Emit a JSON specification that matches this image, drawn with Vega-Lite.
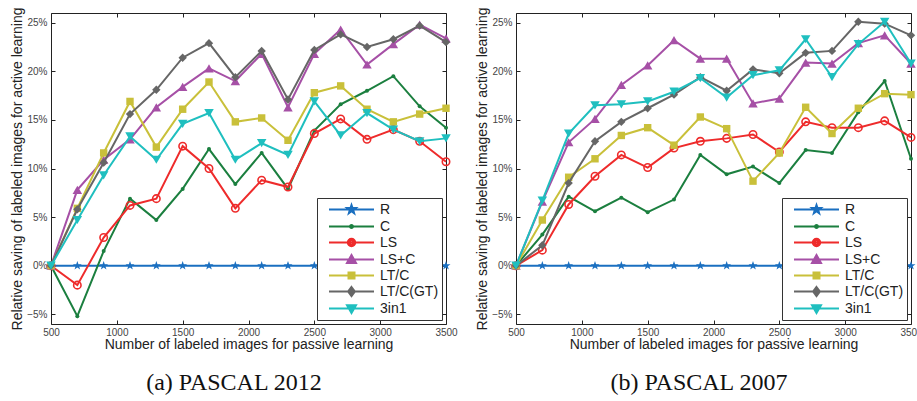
{
  "$schema": "https://vega.github.io/schema/vega-lite/v6.json",
  "padding": {"left": 10, "top": 7, "right": 0, "bottom": 4},
  "bounds": "flush",
  "spacing": 70,
  "resolve": {"scale": {"fill": "independent", "stroke": "independent", "shape": "independent"}, "legend": {"fill": "independent", "stroke": "independent", "shape": "independent"}},
  "config": {
    "view": {"stroke": null},
    "axis": {"labelFont": "Liberation Sans", "labelFontSize": 10, "labelColor": "#444", "titleFont": "Liberation Sans", "titleFontSize": 14, "titleFontWeight": "normal", "titleColor": "#222", "domainColor": "#222", "tickColor": "#222", "grid": false, "labelFlush": false},
    "legend": {"title": null, "orient": "bottom-right", "offset": 4, "padding": 3, "strokeColor": "#333", "fillColor": "white", "symbolSize": 225, "symbolStrokeWidth": 2, "symbolOffset": 23, "labelOffset": 20, "labelFont": "Liberation Sans", "labelFontSize": 14, "labelColor": "#222", "rowPadding": 0, "symbolOpacity": 1}
  },
  "datasets": {
    "a": [
      {"s":"R","x":500,"v":0},{"s":"R","x":700,"v":0},{"s":"R","x":900,"v":0},{"s":"R","x":1100,"v":0},{"s":"R","x":1300,"v":0},{"s":"R","x":1500,"v":0},{"s":"R","x":1700,"v":0},{"s":"R","x":1900,"v":0},{"s":"R","x":2100,"v":0},{"s":"R","x":2300,"v":0},{"s":"R","x":2500,"v":0},{"s":"R","x":2700,"v":0},{"s":"R","x":2900,"v":0},{"s":"R","x":3100,"v":0},{"s":"R","x":3300,"v":0},{"s":"R","x":3500,"v":0},
      {"s":"C","x":500,"v":0},{"s":"C","x":700,"v":-5.2},{"s":"C","x":900,"v":1.5},{"s":"C","x":1100,"v":6.9},{"s":"C","x":1300,"v":4.7},{"s":"C","x":1500,"v":7.9},{"s":"C","x":1700,"v":12.0},{"s":"C","x":1900,"v":8.4},{"s":"C","x":2100,"v":11.6},{"s":"C","x":2300,"v":7.9},{"s":"C","x":2500,"v":13.9},{"s":"C","x":2700,"v":16.6},{"s":"C","x":2900,"v":18.0},{"s":"C","x":3100,"v":19.5},{"s":"C","x":3300,"v":16.4},{"s":"C","x":3500,"v":14.2},
      {"s":"LS","x":500,"v":0},{"s":"LS","x":700,"v":-2.0},{"s":"LS","x":900,"v":2.9},{"s":"LS","x":1100,"v":6.2},{"s":"LS","x":1300,"v":6.9},{"s":"LS","x":1500,"v":12.3},{"s":"LS","x":1700,"v":10.0},{"s":"LS","x":1900,"v":5.9},{"s":"LS","x":2100,"v":8.8},{"s":"LS","x":2300,"v":8.1},{"s":"LS","x":2500,"v":13.6},{"s":"LS","x":2700,"v":15.1},{"s":"LS","x":2900,"v":13.0},{"s":"LS","x":3100,"v":14.0},{"s":"LS","x":3300,"v":12.8},{"s":"LS","x":3500,"v":10.7},
      {"s":"LS+C","x":500,"v":0},{"s":"LS+C","x":700,"v":7.8},{"s":"LS+C","x":900,"v":10.9},{"s":"LS+C","x":1100,"v":13.0},{"s":"LS+C","x":1300,"v":16.3},{"s":"LS+C","x":1500,"v":18.4},{"s":"LS+C","x":1700,"v":20.3},{"s":"LS+C","x":1900,"v":19.0},{"s":"LS+C","x":2100,"v":21.8},{"s":"LS+C","x":2300,"v":16.3},{"s":"LS+C","x":2500,"v":21.8},{"s":"LS+C","x":2700,"v":24.3},{"s":"LS+C","x":2900,"v":20.7},{"s":"LS+C","x":3100,"v":22.8},{"s":"LS+C","x":3300,"v":24.8},{"s":"LS+C","x":3500,"v":23.4},
      {"s":"LT/C","x":500,"v":0},{"s":"LT/C","x":700,"v":5.9},{"s":"LT/C","x":900,"v":11.6},{"s":"LT/C","x":1100,"v":16.9},{"s":"LT/C","x":1300,"v":12.2},{"s":"LT/C","x":1500,"v":16.1},{"s":"LT/C","x":1700,"v":18.9},{"s":"LT/C","x":1900,"v":14.8},{"s":"LT/C","x":2100,"v":15.2},{"s":"LT/C","x":2300,"v":12.9},{"s":"LT/C","x":2500,"v":17.8},{"s":"LT/C","x":2700,"v":18.5},{"s":"LT/C","x":2900,"v":16.1},{"s":"LT/C","x":3100,"v":14.8},{"s":"LT/C","x":3300,"v":15.6},{"s":"LT/C","x":3500,"v":16.2},
      {"s":"LT/C(GT)","x":500,"v":0},{"s":"LT/C(GT)","x":700,"v":5.8},{"s":"LT/C(GT)","x":900,"v":10.6},{"s":"LT/C(GT)","x":1100,"v":15.6},{"s":"LT/C(GT)","x":1300,"v":18.1},{"s":"LT/C(GT)","x":1500,"v":21.4},{"s":"LT/C(GT)","x":1700,"v":22.9},{"s":"LT/C(GT)","x":1900,"v":19.4},{"s":"LT/C(GT)","x":2100,"v":22.1},{"s":"LT/C(GT)","x":2300,"v":17.1},{"s":"LT/C(GT)","x":2500,"v":22.2},{"s":"LT/C(GT)","x":2700,"v":23.8},{"s":"LT/C(GT)","x":2900,"v":22.5},{"s":"LT/C(GT)","x":3100,"v":23.3},{"s":"LT/C(GT)","x":3300,"v":24.7},{"s":"LT/C(GT)","x":3500,"v":23.0},
      {"s":"3in1","x":500,"v":0},{"s":"3in1","x":700,"v":4.7},{"s":"3in1","x":900,"v":9.3},{"s":"3in1","x":1100,"v":13.3},{"s":"3in1","x":1300,"v":10.9},{"s":"3in1","x":1500,"v":14.6},{"s":"3in1","x":1700,"v":15.7},{"s":"3in1","x":1900,"v":10.9},{"s":"3in1","x":2100,"v":12.6},{"s":"3in1","x":2300,"v":11.4},{"s":"3in1","x":2500,"v":16.9},{"s":"3in1","x":2700,"v":13.4},{"s":"3in1","x":2900,"v":15.7},{"s":"3in1","x":3100,"v":14.0},{"s":"3in1","x":3300,"v":12.8},{"s":"3in1","x":3500,"v":13.1}
    ],
    "b": [
      {"s":"R","x":500,"v":0},{"s":"R","x":700,"v":0},{"s":"R","x":900,"v":0},{"s":"R","x":1100,"v":0},{"s":"R","x":1300,"v":0},{"s":"R","x":1500,"v":0},{"s":"R","x":1700,"v":0},{"s":"R","x":1900,"v":0},{"s":"R","x":2100,"v":0},{"s":"R","x":2300,"v":0},{"s":"R","x":2500,"v":0},{"s":"R","x":2700,"v":0},{"s":"R","x":2900,"v":0},{"s":"R","x":3100,"v":0},{"s":"R","x":3300,"v":0},{"s":"R","x":3500,"v":0},
      {"s":"C","x":500,"v":0},{"s":"C","x":700,"v":3.2},{"s":"C","x":900,"v":7.1},{"s":"C","x":1100,"v":5.6},{"s":"C","x":1300,"v":7.0},{"s":"C","x":1500,"v":5.5},{"s":"C","x":1700,"v":6.8},{"s":"C","x":1900,"v":11.4},{"s":"C","x":2100,"v":9.4},{"s":"C","x":2300,"v":10.2},{"s":"C","x":2500,"v":8.5},{"s":"C","x":2700,"v":11.9},{"s":"C","x":2900,"v":11.6},{"s":"C","x":3100,"v":15.8},{"s":"C","x":3300,"v":19.0},{"s":"C","x":3500,"v":11.0},
      {"s":"LS","x":500,"v":0},{"s":"LS","x":700,"v":1.6},{"s":"LS","x":900,"v":6.3},{"s":"LS","x":1100,"v":9.2},{"s":"LS","x":1300,"v":11.4},{"s":"LS","x":1500,"v":10.1},{"s":"LS","x":1700,"v":12.1},{"s":"LS","x":1900,"v":12.8},{"s":"LS","x":2100,"v":13.1},{"s":"LS","x":2300,"v":13.5},{"s":"LS","x":2500,"v":11.7},{"s":"LS","x":2700,"v":14.8},{"s":"LS","x":2900,"v":14.2},{"s":"LS","x":3100,"v":14.2},{"s":"LS","x":3300,"v":14.9},{"s":"LS","x":3500,"v":13.2},
      {"s":"LS+C","x":500,"v":0},{"s":"LS+C","x":700,"v":6.6},{"s":"LS+C","x":900,"v":12.7},{"s":"LS+C","x":1100,"v":15.1},{"s":"LS+C","x":1300,"v":18.6},{"s":"LS+C","x":1500,"v":20.6},{"s":"LS+C","x":1700,"v":23.2},{"s":"LS+C","x":1900,"v":21.3},{"s":"LS+C","x":2100,"v":21.3},{"s":"LS+C","x":2300,"v":16.7},{"s":"LS+C","x":2500,"v":17.2},{"s":"LS+C","x":2700,"v":20.9},{"s":"LS+C","x":2900,"v":20.8},{"s":"LS+C","x":3100,"v":22.9},{"s":"LS+C","x":3300,"v":23.7},{"s":"LS+C","x":3500,"v":20.8},
      {"s":"LT/C","x":500,"v":0},{"s":"LT/C","x":700,"v":4.7},{"s":"LT/C","x":900,"v":9.1},{"s":"LT/C","x":1100,"v":11.0},{"s":"LT/C","x":1300,"v":13.4},{"s":"LT/C","x":1500,"v":14.2},{"s":"LT/C","x":1700,"v":12.4},{"s":"LT/C","x":1900,"v":15.3},{"s":"LT/C","x":2100,"v":14.1},{"s":"LT/C","x":2300,"v":8.7},{"s":"LT/C","x":2500,"v":11.6},{"s":"LT/C","x":2700,"v":16.3},{"s":"LT/C","x":2900,"v":13.6},{"s":"LT/C","x":3100,"v":16.2},{"s":"LT/C","x":3300,"v":17.7},{"s":"LT/C","x":3500,"v":17.6},
      {"s":"LT/C(GT)","x":500,"v":0},{"s":"LT/C(GT)","x":700,"v":2.1},{"s":"LT/C(GT)","x":900,"v":8.5},{"s":"LT/C(GT)","x":1100,"v":12.8},{"s":"LT/C(GT)","x":1300,"v":14.8},{"s":"LT/C(GT)","x":1500,"v":16.2},{"s":"LT/C(GT)","x":1700,"v":17.6},{"s":"LT/C(GT)","x":1900,"v":19.4},{"s":"LT/C(GT)","x":2100,"v":18.0},{"s":"LT/C(GT)","x":2300,"v":20.2},{"s":"LT/C(GT)","x":2500,"v":19.8},{"s":"LT/C(GT)","x":2700,"v":21.9},{"s":"LT/C(GT)","x":2900,"v":22.1},{"s":"LT/C(GT)","x":3100,"v":25.1},{"s":"LT/C(GT)","x":3300,"v":24.9},{"s":"LT/C(GT)","x":3500,"v":23.7},
      {"s":"3in1","x":500,"v":0},{"s":"3in1","x":700,"v":6.7},{"s":"3in1","x":900,"v":13.6},{"s":"3in1","x":1100,"v":16.5},{"s":"3in1","x":1300,"v":16.6},{"s":"3in1","x":1500,"v":16.9},{"s":"3in1","x":1700,"v":17.9},{"s":"3in1","x":1900,"v":19.3},{"s":"3in1","x":2100,"v":17.3},{"s":"3in1","x":2300,"v":19.6},{"s":"3in1","x":2500,"v":20.1},{"s":"3in1","x":2700,"v":23.3},{"s":"3in1","x":2900,"v":19.4},{"s":"3in1","x":3100,"v":22.8},{"s":"3in1","x":3300,"v":25.1},{"s":"3in1","x":3500,"v":20.8}
    ]
  },
  "hconcat": [
    {
      "width": 395, "height": 311,
      "data": {"name": "a"},
      "title": {"text": "(a) PASCAL 2012", "orient": "bottom", "frame": "bounds", "font": "Liberation Serif", "fontSize": 24, "fontWeight": "normal", "color": "#111", "offset": 20, "anchor": "middle"},
      "resolve": {"axis": {"x": "independent", "y": "independent"}},
      "layer": [
        {"transform": [{"filter": "datum.s === 'R'"}], "mark": {"type": "line", "color": "#1a6fc0", "strokeWidth": 2},
         "encoding": {
           "x": {"field": "x", "type": "quantitative", "scale": {"domain": [500, 3500], "nice": false, "zero": false}, "axis": {"orient": "bottom", "values": [500,1000,1500,2000,2500,3000,3500], "format": "d", "tickSize": -4, "labelPadding": 7, "title": "Number of labeled images for passive learning", "titlePadding": 0}},
           "y": {"field": "v", "type": "quantitative", "scale": {"domain": [-6, 26], "nice": false, "zero": false}, "axis": {"orient": "left", "values": [-5,0,5,10,15,20,25], "labelExpr": "(datum.value < 0 ? '−' + abs(datum.value) : datum.value) + '%'", "tickSize": -4, "labelPadding": 8, "title": "Relative saving of labeled images for active learning", "titlePadding": 2}}
         }},
        {"transform": [{"filter": "datum.s === 'R'"}], "mark": {"type": "point", "shape": "M0,-1L0.235,-0.324L0.951,-0.309L0.38,0.124L0.588,0.809L0,0.4L-0.588,0.809L-0.38,0.124L-0.951,-0.309L-0.235,-0.324Z", "filled": true, "color": "#1a6fc0", "size": 90, "opacity": 1},
         "encoding": {"x": {"field": "x", "type": "quantitative", "axis": null}, "y": {"field": "v", "type": "quantitative", "axis": null}}},
        {"transform": [{"filter": "datum.s === 'C'"}], "mark": {"type": "line", "color": "#1b7f3f", "strokeWidth": 2},
         "encoding": {"x": {"field": "x", "type": "quantitative", "axis": null}, "y": {"field": "v", "type": "quantitative", "axis": null}}},
        {"transform": [{"filter": "datum.s === 'C'"}], "mark": {"type": "point", "shape": "circle", "filled": true, "color": "#1b7f3f", "size": 16, "opacity": 1},
         "encoding": {"x": {"field": "x", "type": "quantitative", "axis": null}, "y": {"field": "v", "type": "quantitative", "axis": null}}},
        {"transform": [{"filter": "datum.s === 'LS'"}], "mark": {"type": "line", "color": "#ee2b2b", "strokeWidth": 2},
         "encoding": {"x": {"field": "x", "type": "quantitative", "axis": null}, "y": {"field": "v", "type": "quantitative", "axis": null}}},
        {"transform": [{"filter": "datum.s === 'LS'"}], "mark": {"type": "point", "shape": "circle", "filled": false, "color": "#ee2b2b", "size": 55, "strokeWidth": 1.6, "opacity": 1},
         "encoding": {"x": {"field": "x", "type": "quantitative", "axis": null}, "y": {"field": "v", "type": "quantitative", "axis": null}}},
        {"transform": [{"filter": "datum.s === 'LS+C'"}], "mark": {"type": "line", "color": "#a650a6", "strokeWidth": 2},
         "encoding": {"x": {"field": "x", "type": "quantitative", "axis": null}, "y": {"field": "v", "type": "quantitative", "axis": null}}},
        {"transform": [{"filter": "datum.s === 'LS+C'"}], "mark": {"type": "point", "shape": "triangle-up", "filled": true, "color": "#a650a6", "size": 90, "opacity": 1},
         "encoding": {"x": {"field": "x", "type": "quantitative", "axis": null}, "y": {"field": "v", "type": "quantitative", "axis": null}}},
        {"transform": [{"filter": "datum.s === 'LT/C'"}], "mark": {"type": "line", "color": "#c9c03a", "strokeWidth": 2},
         "encoding": {"x": {"field": "x", "type": "quantitative", "axis": null}, "y": {"field": "v", "type": "quantitative", "axis": null}}},
        {"transform": [{"filter": "datum.s === 'LT/C'"}], "mark": {"type": "point", "shape": "square", "filled": true, "color": "#c9c03a", "size": 55, "opacity": 1},
         "encoding": {"x": {"field": "x", "type": "quantitative", "axis": null}, "y": {"field": "v", "type": "quantitative", "axis": null}}},
        {"transform": [{"filter": "datum.s === 'LT/C(GT)'"}], "mark": {"type": "line", "color": "#666666", "strokeWidth": 2},
         "encoding": {"x": {"field": "x", "type": "quantitative", "axis": null}, "y": {"field": "v", "type": "quantitative", "axis": null}}},
        {"transform": [{"filter": "datum.s === 'LT/C(GT)'"}], "mark": {"type": "point", "shape": "diamond", "filled": true, "color": "#666666", "size": 70, "opacity": 1},
         "encoding": {"x": {"field": "x", "type": "quantitative", "axis": null}, "y": {"field": "v", "type": "quantitative", "axis": null}}},
        {"transform": [{"filter": "datum.s === '3in1'"}], "mark": {"type": "line", "color": "#1fbfbf", "strokeWidth": 2},
         "encoding": {"x": {"field": "x", "type": "quantitative", "axis": null}, "y": {"field": "v", "type": "quantitative", "axis": null}}},
        {"transform": [{"filter": "datum.s === '3in1'"}], "mark": {"type": "point", "shape": "triangle-down", "filled": true, "color": "#1fbfbf", "size": 90, "opacity": 1},
         "encoding": {"x": {"field": "x", "type": "quantitative", "axis": null}, "y": {"field": "v", "type": "quantitative", "axis": null}}},
        {"transform": [{"filter": "datum.x === 500"}], "mark": {"type": "point", "filled": true, "opacity": 0},
         "encoding": {
           "x": {"field": "x", "type": "quantitative", "axis": {"orient": "top", "values": [500,1000,1500,2000,2500,3000,3500], "labels": false, "tickSize": -4, "title": null}},
           "y": {"field": "v", "type": "quantitative", "axis": {"orient": "right", "values": [-5,0,5,10,15,20,25], "labels": false, "tickSize": -4, "title": null}},
           "fill": {"field": "s", "type": "nominal", "scale": {"domain": ["R","C","LS","LS+C","LT/C","LT/C(GT)","3in1"], "range": ["#1a6fc0","#1b7f3f","#ee2b2b","#a650a6","#c9c03a","#666666","#1fbfbf"]}},
           "stroke": {"field": "s", "type": "nominal", "scale": {"domain": ["R","C","LS","LS+C","LT/C","LT/C(GT)","3in1"], "range": ["#1a6fc0","#1b7f3f","#ee2b2b","#a650a6","#c9c03a","#666666","#1fbfbf"]}},
           "shape": {"field": "s", "type": "nominal", "scale": {"domain": ["R","C","LS","LS+C","LT/C","LT/C(GT)","3in1"], "range": [
             "M-3,0H3M0,-0.6L0.14,-0.19L0.57,-0.19L0.23,0.07L0.35,0.49L0,0.24L-0.35,0.49L-0.23,0.07L-0.57,-0.19L-0.14,-0.19Z",
             "M-3,0H3M0.2,0A0.2,0.2 0 1,1 -0.2,0A0.2,0.2 0 1,1 0.2,0Z",
             "M-3,0H3M0.5,0A0.5,0.5 0 1,1 -0.5,0A0.5,0.5 0 1,1 0.5,0ZM0.3,0A0.3,0.3 0 1,0 -0.3,0A0.3,0.3 0 1,0 0.3,0Z",
             "M-3,0H3M0,-0.6L0.6,0.45L-0.6,0.45Z",
             "M-3,0H3M-0.4,-0.4H0.4V0.4H-0.4Z",
             "M-3,0H3M0,-0.6L0.45,0L0,0.6L-0.45,0Z",
             "M-3,0H3M0,0.6L0.6,-0.45L-0.6,-0.45Z"]}}
         }}
      ]
    },
    {
      "width": 395, "height": 311,
      "data": {"name": "b"},
      "title": {"text": "(b) PASCAL 2007", "orient": "bottom", "frame": "bounds", "font": "Liberation Serif", "fontSize": 24, "fontWeight": "normal", "color": "#111", "offset": 20, "anchor": "middle"},
      "resolve": {"axis": {"x": "independent", "y": "independent"}},
      "layer": [
        {"transform": [{"filter": "datum.s === 'R'"}], "mark": {"type": "line", "color": "#1a6fc0", "strokeWidth": 2},
         "encoding": {
           "x": {"field": "x", "type": "quantitative", "scale": {"domain": [500, 3500], "nice": false, "zero": false}, "axis": {"orient": "bottom", "values": [500,1000,1500,2000,2500,3000,3500], "format": "d", "tickSize": -4, "labelPadding": 7, "title": "Number of labeled images for passive learning", "titlePadding": 0}},
           "y": {"field": "v", "type": "quantitative", "scale": {"domain": [-6, 26], "nice": false, "zero": false}, "axis": {"orient": "left", "values": [-5,0,5,10,15,20,25], "labelExpr": "(datum.value < 0 ? '−' + abs(datum.value) : datum.value) + '%'", "tickSize": -4, "labelPadding": 8, "title": "Relative saving of labeled images for active learning", "titlePadding": 2}}
         }},
        {"transform": [{"filter": "datum.s === 'R'"}], "mark": {"type": "point", "shape": "M0,-1L0.235,-0.324L0.951,-0.309L0.38,0.124L0.588,0.809L0,0.4L-0.588,0.809L-0.38,0.124L-0.951,-0.309L-0.235,-0.324Z", "filled": true, "color": "#1a6fc0", "size": 90, "opacity": 1},
         "encoding": {"x": {"field": "x", "type": "quantitative", "axis": null}, "y": {"field": "v", "type": "quantitative", "axis": null}}},
        {"transform": [{"filter": "datum.s === 'C'"}], "mark": {"type": "line", "color": "#1b7f3f", "strokeWidth": 2},
         "encoding": {"x": {"field": "x", "type": "quantitative", "axis": null}, "y": {"field": "v", "type": "quantitative", "axis": null}}},
        {"transform": [{"filter": "datum.s === 'C'"}], "mark": {"type": "point", "shape": "circle", "filled": true, "color": "#1b7f3f", "size": 16, "opacity": 1},
         "encoding": {"x": {"field": "x", "type": "quantitative", "axis": null}, "y": {"field": "v", "type": "quantitative", "axis": null}}},
        {"transform": [{"filter": "datum.s === 'LS'"}], "mark": {"type": "line", "color": "#ee2b2b", "strokeWidth": 2},
         "encoding": {"x": {"field": "x", "type": "quantitative", "axis": null}, "y": {"field": "v", "type": "quantitative", "axis": null}}},
        {"transform": [{"filter": "datum.s === 'LS'"}], "mark": {"type": "point", "shape": "circle", "filled": false, "color": "#ee2b2b", "size": 55, "strokeWidth": 1.6, "opacity": 1},
         "encoding": {"x": {"field": "x", "type": "quantitative", "axis": null}, "y": {"field": "v", "type": "quantitative", "axis": null}}},
        {"transform": [{"filter": "datum.s === 'LS+C'"}], "mark": {"type": "line", "color": "#a650a6", "strokeWidth": 2},
         "encoding": {"x": {"field": "x", "type": "quantitative", "axis": null}, "y": {"field": "v", "type": "quantitative", "axis": null}}},
        {"transform": [{"filter": "datum.s === 'LS+C'"}], "mark": {"type": "point", "shape": "triangle-up", "filled": true, "color": "#a650a6", "size": 90, "opacity": 1},
         "encoding": {"x": {"field": "x", "type": "quantitative", "axis": null}, "y": {"field": "v", "type": "quantitative", "axis": null}}},
        {"transform": [{"filter": "datum.s === 'LT/C'"}], "mark": {"type": "line", "color": "#c9c03a", "strokeWidth": 2},
         "encoding": {"x": {"field": "x", "type": "quantitative", "axis": null}, "y": {"field": "v", "type": "quantitative", "axis": null}}},
        {"transform": [{"filter": "datum.s === 'LT/C'"}], "mark": {"type": "point", "shape": "square", "filled": true, "color": "#c9c03a", "size": 55, "opacity": 1},
         "encoding": {"x": {"field": "x", "type": "quantitative", "axis": null}, "y": {"field": "v", "type": "quantitative", "axis": null}}},
        {"transform": [{"filter": "datum.s === 'LT/C(GT)'"}], "mark": {"type": "line", "color": "#666666", "strokeWidth": 2},
         "encoding": {"x": {"field": "x", "type": "quantitative", "axis": null}, "y": {"field": "v", "type": "quantitative", "axis": null}}},
        {"transform": [{"filter": "datum.s === 'LT/C(GT)'"}], "mark": {"type": "point", "shape": "diamond", "filled": true, "color": "#666666", "size": 70, "opacity": 1},
         "encoding": {"x": {"field": "x", "type": "quantitative", "axis": null}, "y": {"field": "v", "type": "quantitative", "axis": null}}},
        {"transform": [{"filter": "datum.s === '3in1'"}], "mark": {"type": "line", "color": "#1fbfbf", "strokeWidth": 2},
         "encoding": {"x": {"field": "x", "type": "quantitative", "axis": null}, "y": {"field": "v", "type": "quantitative", "axis": null}}},
        {"transform": [{"filter": "datum.s === '3in1'"}], "mark": {"type": "point", "shape": "triangle-down", "filled": true, "color": "#1fbfbf", "size": 90, "opacity": 1},
         "encoding": {"x": {"field": "x", "type": "quantitative", "axis": null}, "y": {"field": "v", "type": "quantitative", "axis": null}}},
        {"transform": [{"filter": "datum.x === 500"}], "mark": {"type": "point", "filled": true, "opacity": 0},
         "encoding": {
           "x": {"field": "x", "type": "quantitative", "axis": {"orient": "top", "values": [500,1000,1500,2000,2500,3000,3500], "labels": false, "tickSize": -4, "title": null}},
           "y": {"field": "v", "type": "quantitative", "axis": {"orient": "right", "values": [-5,0,5,10,15,20,25], "labels": false, "tickSize": -4, "title": null}},
           "fill": {"field": "s", "type": "nominal", "scale": {"domain": ["R","C","LS","LS+C","LT/C","LT/C(GT)","3in1"], "range": ["#1a6fc0","#1b7f3f","#ee2b2b","#a650a6","#c9c03a","#666666","#1fbfbf"]}},
           "stroke": {"field": "s", "type": "nominal", "scale": {"domain": ["R","C","LS","LS+C","LT/C","LT/C(GT)","3in1"], "range": ["#1a6fc0","#1b7f3f","#ee2b2b","#a650a6","#c9c03a","#666666","#1fbfbf"]}},
           "shape": {"field": "s", "type": "nominal", "scale": {"domain": ["R","C","LS","LS+C","LT/C","LT/C(GT)","3in1"], "range": [
             "M-3,0H3M0,-0.6L0.14,-0.19L0.57,-0.19L0.23,0.07L0.35,0.49L0,0.24L-0.35,0.49L-0.23,0.07L-0.57,-0.19L-0.14,-0.19Z",
             "M-3,0H3M0.2,0A0.2,0.2 0 1,1 -0.2,0A0.2,0.2 0 1,1 0.2,0Z",
             "M-3,0H3M0.5,0A0.5,0.5 0 1,1 -0.5,0A0.5,0.5 0 1,1 0.5,0ZM0.3,0A0.3,0.3 0 1,0 -0.3,0A0.3,0.3 0 1,0 0.3,0Z",
             "M-3,0H3M0,-0.6L0.6,0.45L-0.6,0.45Z",
             "M-3,0H3M-0.4,-0.4H0.4V0.4H-0.4Z",
             "M-3,0H3M0,-0.6L0.45,0L0,0.6L-0.45,0Z",
             "M-3,0H3M0,0.6L0.6,-0.45L-0.6,-0.45Z"]}}
         }}
      ]
    }
  ]
}
